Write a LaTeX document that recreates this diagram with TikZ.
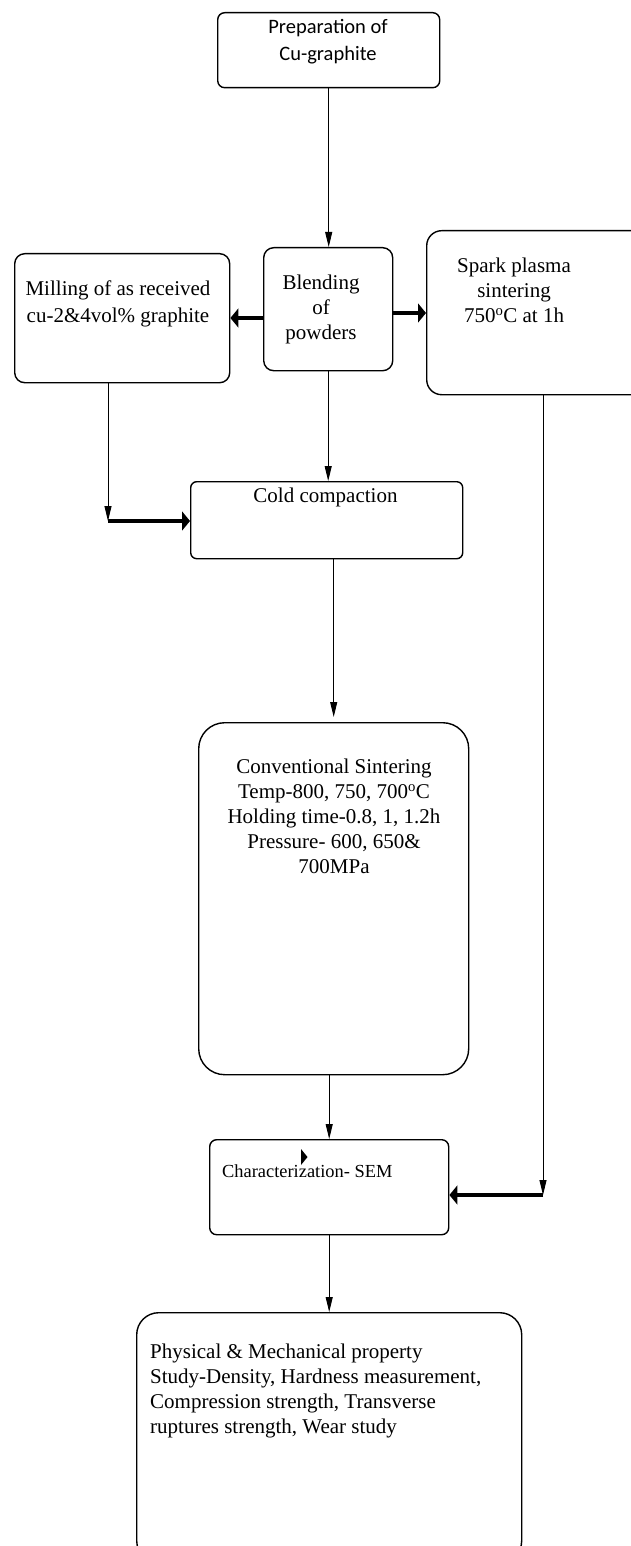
\documentclass[tikz,border=0pt]{standalone}
\usepackage{fontspec}
\setmainfont{Liberation Serif}
\newfontfamily\headsans{Carlito}
\usetikzlibrary{arrows.meta}

\begin{document}
\begin{tikzpicture}[
  x=1pt, y=-1pt,
  font=\fontsize{21}{25}\selectfont,
  stage/.style={draw, line width=1.4pt, inner sep=0pt, anchor=north west},
  stagetext/.style={inner sep=0pt, align=center, anchor=north},
  arrow/.style={-{Triangle[length=15pt, width=7pt]}, line width=0.9pt},
  heavy/.style={-{Triangle[length=8pt, width=19pt]}, line width=3.5pt}
]
  \useasboundingbox (0,0) rectangle (630,1546);

  \node[stage, rounded corners=7pt, minimum width=222pt, minimum height=75pt] (prep) at (217,12) {};
  \node[stagetext, font=\headsans\fontsize{20.5}{27}\selectfont] (preptext) at (328,19) {Preparation of\\Cu-graphite};

  \node[stage, rounded corners=10pt, minimum width=129pt, minimum height=123pt] (blend) at (263,247) {};
  \node[stagetext] (blendtext) at (321,275) {Blending\\of\\powders};

  \node[stage, rounded corners=10pt, minimum width=215pt, minimum height=129pt] (mill) at (14,253) {};
  \node[stagetext, font=\fontsize{21}{27}\selectfont] (milltext) at (118,281) {Milling of as received\\cu-2\&4vol\% graphite};

  \node[stage, rounded corners=15pt, minimum width=260pt, minimum height=164pt] (spark) at (426,230) {};
  \node[stagetext] (sparktext) at (514,258) {Spark plasma\\sintering\\750\textsuperscript{o}C at 1h};

  \node[stage, rounded corners=6pt, minimum width=272pt, minimum height=77pt] (cold) at (190,481) {};
  \node[stagetext] (coldtext) at (325.5,488) {Cold compaction};

  \node[stage, rounded corners=26pt, minimum width=270pt, minimum height=352pt] (conv) at (198,722) {};
  \node[stagetext] (convtext) at (334,759) {Conventional Sintering\\Temp-800, 750, 700\textsuperscript{o}C\\Holding time-0.8, 1, 1.2h\\Pressure- 600, 650\&\\700MPa};

  \node[stage, rounded corners=7pt, minimum width=239pt, minimum height=95pt] (char) at (209,1139) {};
  \node[stagetext, anchor=north west, font=\fontsize{18.4}{22}\selectfont] (chartext) at (222,1164.5) {Characterization- SEM};

  \node[stage, rounded corners=22pt, minimum width=385pt, minimum height=250pt] (phys) at (136,1312) {};
  \node[stagetext, anchor=north west, align=left] (phystext) at (150,1344) {Physical \& Mechanical property\\Study-Density, Hardness measurement,\\Compression strength, Transverse\\ruptures strength, Wear study};

  \coordinate (millturn) at (108,521);
  \coordinate (sparkturn) at (543,1195);

  \draw[arrow] (prep.south) -- (prep.south |- blend.north);
  \draw[heavy] (blend.west |- 0,318) -- (mill.east |- 0,318);
  \draw[heavy] (blend.east |- 0,313) -- (spark.west |- 0,313);
  \draw[arrow] (mill.south -| millturn) -- (millturn);
  \draw[heavy] (millturn) -- (cold.west |- millturn);
  \draw[arrow] (blend.south) -- (blend.south |- cold.north);
  \draw[arrow, shorten >=5pt] (cold.south -| conv.north) -- (conv.north);
  \draw[arrow] (spark.south -| sparkturn) -- (sparkturn);
  \draw[heavy] (sparkturn) -- (char.east |- sparkturn);
  \draw[arrow] (conv.south -| char.north) -- (char.north);
  \draw[arrow] (char.south) -- (phys.north);

  \fill (301,1149) -- (307.5,1157) -- (301,1165) -- cycle;
\end{tikzpicture}
\end{document}
